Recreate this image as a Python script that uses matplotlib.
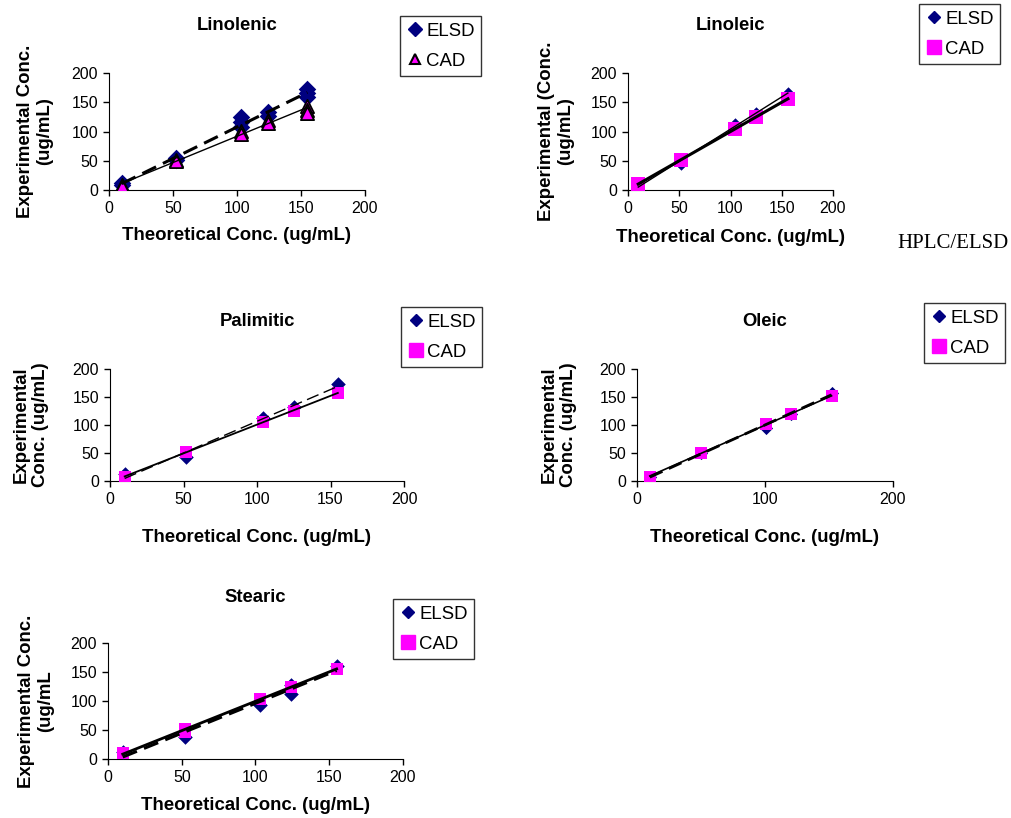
import numpy as np
import matplotlib

matplotlib.use("Agg")
import matplotlib.pyplot as plt
from matplotlib.lines import Line2D

plt.rcParams["font.family"] = ["Liberation Sans", "DejaVu Sans"]

W, H = 1011, 818

# ---- data (theoretical x, experimental y) ----
linolenic_elsd_x = [10, 10, 52, 52, 103, 103, 103, 124, 124, 155, 155, 155]
linolenic_elsd_y = [12, 9, 55, 52, 124, 116, 108, 133, 127, 172, 166, 159]
linolenic_cad_x = [10, 10, 52, 52, 103, 103, 124, 124, 155, 155, 155]
linolenic_cad_y = [9, 6, 52, 49, 101, 96, 120, 115, 143, 136, 132]

linoleic_elsd_x = [10, 52, 104, 125, 156]
linoleic_elsd_y = [9, 44, 112, 131, 166]
linoleic_cad_x = [10, 52, 104, 125, 156]
linoleic_cad_y = [10, 52, 105, 124, 156]

palimitic_elsd_x = [10, 52, 104, 125, 155]
palimitic_elsd_y = [12, 42, 112, 133, 173]
palimitic_cad_x = [10, 52, 104, 125, 155]
palimitic_cad_y = [8, 52, 105, 125, 158]

oleic_elsd_x = [10, 50, 101, 120, 152]
oleic_elsd_y = [8, 50, 95, 120, 158]
oleic_cad_x = [10, 50, 101, 120, 152]
oleic_cad_y = [8, 50, 102, 120, 151]

stearic_elsd_x = [10, 52, 103, 124, 124, 155]
stearic_elsd_y = [12, 38, 93, 112, 128, 160]
stearic_cad_x = [10, 52, 52, 103, 124, 155]
stearic_cad_y = [10, 52, 47, 103, 125, 155]

NAVY = "#000080"
MAGENTA = "#FF00FF"


def fx(px):
    return px / W


def fy(py):
    return 1 - py / H


def trend(ax, x, y, **kw):
    k, b = np.polyfit(x, y, 1)
    xs = np.array([min(x), max(x)])
    ax.plot(xs, k * xs + b, color="black", zorder=4, **kw)


def panel(box, title, title_y, ylabel, ylabel_x, xlabel_y, elsd, cad, tri,
          xticks, legpos, elsd_line, cad_line, ms_e, ms_c):
    x0, y0, x1, y1 = box
    ax = fig.add_axes([fx(x0), fy(y1), (x1 - x0) / W, (y1 - y0) / H])
    ex, ey = elsd
    cx, cy = cad
    ax.scatter(ex, ey, marker="D", s=ms_e, color=NAVY, zorder=3, linewidths=0)
    if tri:
        ax.scatter(cx, cy, marker="^", s=ms_c, color=MAGENTA, edgecolors="black",
                   linewidths=1.3, zorder=3)
    else:
        ax.scatter(cx, cy, marker="s", s=ms_c, color=MAGENTA, zorder=3, linewidths=0)
    trend(ax, ex, ey, **elsd_line)
    trend(ax, cx, cy, **cad_line)

    ax.set_xlim(0, 200)
    ax.set_ylim(0, 200)
    ax.set_xticks(xticks)
    ax.set_yticks([0, 50, 100, 150, 200])
    for s in ("top", "right"):
        ax.spines[s].set_visible(False)
    ax.tick_params(labelsize=11.5, length=4, width=1, direction="out", pad=4)

    xc = (x0 + x1) / 2
    fig.text(fx(xc), fy(title_y), title, fontsize=13.3, fontweight="bold",
             ha="center", va="center")
    fig.text(fx(ylabel_x), fy((y0 + y1) / 2), ylabel, fontsize=13.4,
             fontweight="bold", rotation=90, ha="center", va="center",
             linespacing=1.2, multialignment="center")
    fig.text(fx(xc), fy(xlabel_y), "Theoretical Conc. (ug/mL)", fontsize=13.4,
             fontweight="bold", ha="center", va="center")

    if tri:
        elsd_handle = Line2D([], [], marker="D", ls="none", ms=7, color=NAVY)
        cad_handle = Line2D([], [], marker="^", ls="none", ms=7.5, color=MAGENTA,
                            markeredgecolor="black", markeredgewidth=1.5)
    else:
        elsd_handle = Line2D([], [], marker="D", ls="none", ms=6.5, color=NAVY)
        cad_handle = Line2D([], [], marker="s", ls="none", ms=10, color=MAGENTA)
    leg = fig.legend([elsd_handle, cad_handle], ["ELSD", "CAD"],
                     loc="upper left", bbox_to_anchor=(fx(legpos[0]), fy(legpos[1])),
                     bbox_transform=fig.transFigure, fontsize=13.4,
                     frameon=True, fancybox=False, borderpad=0.35,
                     handletextpad=0.15, handlelength=0.9, labelspacing=0.7,
                     borderaxespad=0)
    leg.get_frame().set_edgecolor("black")
    leg.get_frame().set_linewidth(1.0)
    return ax


fig = plt.figure(figsize=(W / 100, H / 100), dpi=100)

panel((109, 73, 365, 190), "Linolenic", 26, "Experimental Conc.\n(ug/mL)", 35, 236,
      (linolenic_elsd_x, linolenic_elsd_y), (linolenic_cad_x, linolenic_cad_y),
      True, [0, 50, 100, 150, 200], (400, 16),
      dict(ls=(0, (5, 2.5)), lw=2.2), dict(ls="-", lw=1.0), 80, 90)
panel((628, 73, 833, 190), "Linoleic", 26, "Experimental (Conc.\n(ug/mL)", 556, 237,
      (linoleic_elsd_x, linoleic_elsd_y), (linoleic_cad_x, linoleic_cad_y),
      False, [0, 50, 100, 150, 200], (919, 4),
      dict(ls="-", lw=1.0), dict(ls="-", lw=2.2), 40, 90)
panel((110, 369, 404, 481), "Palimitic", 322, "Experimental\nConc. (ug/mL)", 31, 537,
      (palimitic_elsd_x, palimitic_elsd_y), (palimitic_cad_x, palimitic_cad_y),
      False, [0, 50, 100, 150, 200], (401, 307),
      dict(ls=(0, (9, 4)), lw=1.0), dict(ls="-", lw=1.3), 55, 85)
panel((637, 369, 893, 481), "Oleic", 322, "Experimental\nConc. (ug/mL)", 559, 537,
      (oleic_elsd_x, oleic_elsd_y), (oleic_cad_x, oleic_cad_y),
      False, [0, 100, 200], (924, 303),
      dict(ls=(0, (5, 2.5)), lw=2.0), dict(ls="-", lw=1.2), 45, 85)
panel((108, 643, 403, 759), "Stearic", 597, "Experimental Conc.\n(ug/mL", 36, 806,
      (stearic_elsd_x, stearic_elsd_y), (stearic_cad_x, stearic_cad_y),
      False, [0, 50, 100, 150, 200], (393, 599),
      dict(ls=(0, (5, 2.5)), lw=2.2), dict(ls="-", lw=2.0), 55, 85)

fig.text(fx(897), fy(243), "HPLC/ELSD", family=["Liberation Serif", "DejaVu Serif"],
         fontsize=15, ha="left", va="center")

fig.savefig("out.png", dpi=100)
